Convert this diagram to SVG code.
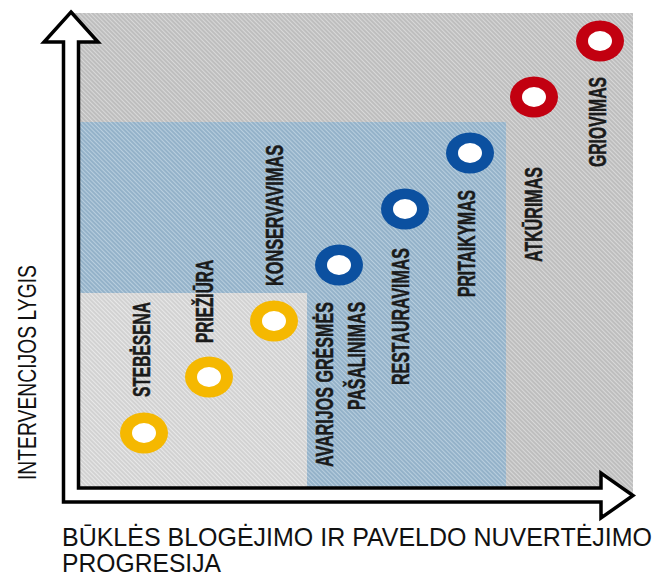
<svg xmlns="http://www.w3.org/2000/svg" width="669" height="577" viewBox="0 0 669 577">
<style>
.lbl{font-family:"Liberation Sans",Arial,sans-serif;font-weight:bold;font-size:23px;fill:#1a1a1a;stroke:#1a1a1a;stroke-width:0.5}
.ax{font-family:"Liberation Sans",Arial,sans-serif;font-size:25px;fill:#111}
.y{fill:#f5b800}.b{fill:#0b50a0}.r{fill:#c20010}.w{fill:#fff}
.arrow{fill:#fff;stroke:#000;stroke-width:3.5;stroke-linejoin:miter}
</style>
<defs>
<pattern id="hg" width="3" height="3" patternUnits="userSpaceOnUse" patternTransform="rotate(-45)"><rect width="3" height="3" fill="#bebebe"/><rect width="1" height="3" fill="#d8d8d8"/></pattern>
<pattern id="hb" width="3" height="3" patternUnits="userSpaceOnUse" patternTransform="rotate(-45)"><rect width="3" height="3" fill="#94b2c9"/><rect width="1" height="3" fill="#b8cede"/></pattern>
<pattern id="hl" width="3" height="3" patternUnits="userSpaceOnUse" patternTransform="rotate(-45)"><rect width="3" height="3" fill="#d2d2d2"/><rect width="1" height="3" fill="#e8e8e8"/></pattern>
</defs>
<rect width="669" height="577" fill="#fff"/>
<g id="zones">
<rect x="71" y="13" width="562" height="482" fill="url(#hg)"/>
<rect x="78" y="122" width="428" height="366" fill="url(#hb)"/>
<rect x="78" y="293" width="229" height="195" fill="url(#hl)"/>
</g>
<g id="connectors">
<path class="arrow" d="M71 12 L98 42 L78.5 42 L78.5 488 L601 488 L601 473 L633 495.5 L601 518 L601 502 L63.5 502 L63.5 42 L44 42 Z"/>
</g>
<g id="axis-labels">
<text class="ax" transform="translate(36,480) rotate(-90)" font-size="27" textLength="215" lengthAdjust="spacingAndGlyphs">INTERVENCIJOS LYGIS</text>
<text class="ax" x="62" y="546" textLength="590" lengthAdjust="spacingAndGlyphs">BŪKLĖS BLOGĖJIMO IR PAVELDO NUVERTĖJIMO</text>
<text class="ax" x="62" y="572" textLength="159" lengthAdjust="spacingAndGlyphs">PROGRESIJA</text>
</g>
<g id="stebesena"><ellipse class="y" cx="144" cy="433" rx="24" ry="20.5"/><ellipse class="w" cx="144" cy="433" rx="12" ry="10"/>
<text class="lbl" transform="translate(150,397) rotate(-90)" textLength="95" lengthAdjust="spacingAndGlyphs">STEBĖSENA</text></g>
<g id="prieziura"><ellipse class="y" cx="209" cy="377" rx="24" ry="20.5"/><ellipse class="w" cx="209" cy="377" rx="12" ry="10"/>
<text class="lbl" transform="translate(213,343) rotate(-90)" textLength="83" lengthAdjust="spacingAndGlyphs">PRIEŽIŪRA</text></g>
<g id="konservavimas"><ellipse class="y" cx="274" cy="321" rx="24" ry="20.5"/><ellipse class="w" cx="274" cy="321" rx="12" ry="10"/>
<text class="lbl" transform="translate(283,286) rotate(-90)" textLength="141" lengthAdjust="spacingAndGlyphs">KONSERVAVIMAS</text></g>
<g id="avarijos"><ellipse class="b" cx="339" cy="265" rx="24" ry="20.5"/><ellipse class="w" cx="339" cy="265" rx="12" ry="10"/>
<text class="lbl" transform="translate(333,467) rotate(-90)" textLength="165" lengthAdjust="spacingAndGlyphs">AVARIJOS GRĖSMĖS</text>
<text class="lbl" transform="translate(365,410) rotate(-90)" textLength="108" lengthAdjust="spacingAndGlyphs">PAŠALINIMAS</text></g>
<g id="restauravimas"><ellipse class="b" cx="405" cy="209" rx="24" ry="20.5"/><ellipse class="w" cx="405" cy="209" rx="12" ry="10"/>
<text class="lbl" transform="translate(409,385) rotate(-90)" textLength="137" lengthAdjust="spacingAndGlyphs">RESTAURAVIMAS</text></g>
<g id="pritaikymas"><ellipse class="b" cx="470" cy="153" rx="24" ry="20.5"/><ellipse class="w" cx="470" cy="153" rx="12" ry="10"/>
<text class="lbl" transform="translate(475,297) rotate(-90)" textLength="107" lengthAdjust="spacingAndGlyphs">PRITAIKYMAS</text></g>
<g id="atkurimas"><ellipse class="r" cx="534" cy="97" rx="24" ry="20.5"/><ellipse class="w" cx="534" cy="97" rx="12" ry="10"/>
<text class="lbl" transform="translate(542,262) rotate(-90)" textLength="95" lengthAdjust="spacingAndGlyphs">ATKŪRIMAS</text></g>
<g id="griovimas"><ellipse class="r" cx="600" cy="41" rx="24" ry="20.5"/><ellipse class="w" cx="600" cy="41" rx="12" ry="10"/>
<text class="lbl" transform="translate(606,167) rotate(-90)" textLength="90" lengthAdjust="spacingAndGlyphs">GRIOVIMAS</text></g>
</svg>
